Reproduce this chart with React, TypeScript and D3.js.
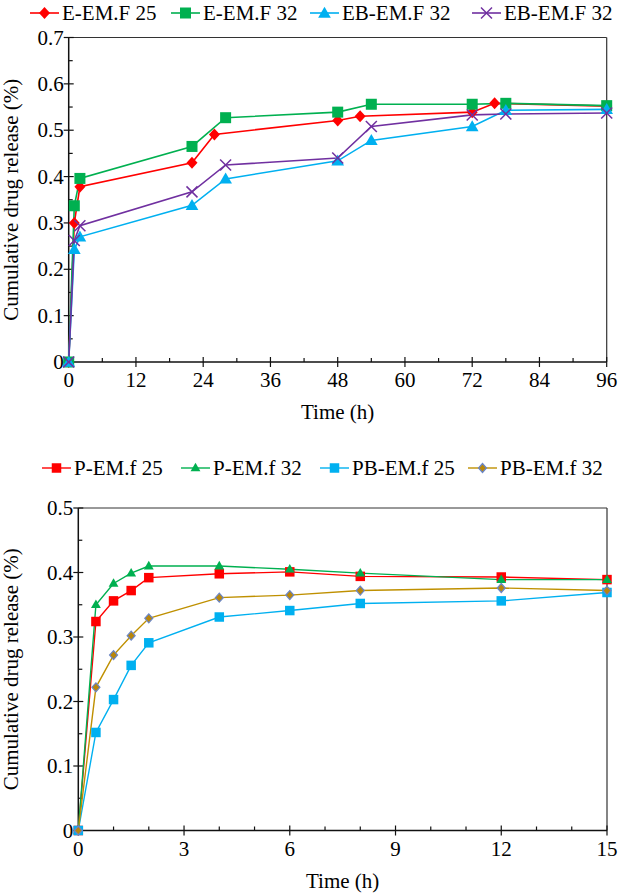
import React from "react";
import * as d3 from "d3";

// ---------- Top chart data ----------
const topNames = ["E-EM.F 25", "E-EM.F 32", "EB-EM.F 32", "EB-EM.F 32"];
const topColors = ["#ff0000", "#00b050", "#00b0f0", "#7030a0"];
const topShapes = ["diamond", "square", "triangle", "cross"];
const topT1 = [0, 1, 2, 22, 26, 48, 52, 72, 76, 96];
const topV1 = [0, 0.3, 0.378, 0.43, 0.491, 0.521, 0.53, 0.539, 0.558, 0.552];
const topT2 = [0, 1, 2, 22, 28, 48, 54, 72, 78, 96];
const topV2 = [0, 0.337, 0.396, 0.465, 0.527, 0.539, 0.556, 0.556, 0.558, 0.553];
const topT3 = [0, 1, 2, 22, 28, 48, 54, 72, 78, 96];
const topV3 = [0, 0.243, 0.27, 0.338, 0.395, 0.434, 0.478, 0.508, 0.543, 0.545];
const topT4 = [0, 1, 2, 22, 28, 48, 54, 72, 78, 96];
const topV4 = [0, 0.262, 0.294, 0.367, 0.425, 0.44, 0.508, 0.533, 0.535, 0.537];
const topXTicks = [0, 12, 24, 36, 48, 60, 72, 84, 96];
const topYTicks = [0, 0.1, 0.2, 0.3, 0.4, 0.5, 0.6, 0.7];

// ---------- Bottom chart data ----------
const botNames = ["P-EM.f 25", "P-EM.f 32", "PB-EM.f 25", "PB-EM.f 32"];
const botColors = ["#ff0000", "#00b050", "#00b0f0", "#bf9000"];
const botShapes = ["square", "triangle", "square", "diamond"];
const botTime = [0, 0.5, 1, 1.5, 2, 4, 6, 8, 12, 15];
const botV1 = [0, 0.324, 0.356, 0.372, 0.392, 0.398, 0.401, 0.394, 0.393, 0.389];
const botV2 = [0, 0.35, 0.383, 0.399, 0.41, 0.41, 0.405, 0.399, 0.389, 0.389];
const botV3 = [0, 0.152, 0.203, 0.256, 0.291, 0.331, 0.341, 0.352, 0.356, 0.369];
const botV4 = [0, 0.222, 0.272, 0.302, 0.329, 0.361, 0.365, 0.372, 0.376, 0.372];
const botXTicks = [0, 3, 6, 9, 12, 15];
const botYTicks = [0, 0.1, 0.2, 0.3, 0.4, 0.5];

const FONT = "Liberation Serif, DejaVu Serif, serif";

type Series = { name: string; color: string; shape: string; t: number[]; v: number[] };

function Marker({ shape, color, x, y, big }: { shape: string; color: string; x: number; y: number; big: boolean }) {
  if (shape === "diamond") {
    if (big) {
      const w = 5.5, h = 6;
      return <path d={`M${x},${y - h}L${x + w},${y}L${x},${y + h}L${x - w},${y}Z`} fill={color} />;
    }
    const w = 4, h = 4.5;
    return <path d={`M${x},${y - h}L${x + w},${y}L${x},${y + h}L${x - w},${y}Z`} fill="#b8860b" stroke="#6a86c8" strokeWidth={1.2} />;
  }
  if (shape === "square") {
    const s = big ? 11 : 9.5;
    return <rect x={x - s / 2} y={y - s / 2} width={s} height={s} fill={color} />;
  }
  if (shape === "triangle") {
    const p = d3.symbol(d3.symbolTriangle, big ? 70 : 42)();
    return <path d={p as string} transform={`translate(${x},${y + (big ? 1 : 0.5)})`} fill={color} />;
  }
  const r = 5.5;
  return (
    <g stroke={color} strokeWidth={1.5}>
      <line x1={x - r} y1={y - r} x2={x + r} y2={y + r} />
      <line x1={x - r} y1={y + r} x2={x + r} y2={y - r} />
    </g>
  );
}

function Chart({
  series, left, right, top, bottom, xMax, yMax, xTicks, yTicks, xMinorStep, yMinorStep, big, legendY, legendXs, lineW,
}: {
  series: Series[]; left: number; right: number; top: number; bottom: number; xMax: number; yMax: number;
  xTicks: number[]; yTicks: number[]; xMinorStep: number; yMinorStep: number; big: boolean;
  legendY: number; legendXs: number[]; lineW: number;
}) {
  const x = d3.scaleLinear().domain([0, xMax]).range([left, right]);
  const y = d3.scaleLinear().domain([0, yMax]).range([bottom, top]);
  const xMinor = d3.range(0, xMax + 1e-9, xMinorStep).filter((v) => !xTicks.some((t) => Math.abs(t - v) < 1e-6));
  const yMinor = d3.range(0, yMax + 1e-9, yMinorStep).filter((v) => !yTicks.some((t) => Math.abs(t - v) < 1e-6));
  const line = d3.line<[number, number]>().x((d) => x(d[0])).y((d) => y(d[1]));
  return (
    <g style={{ fontFamily: FONT }}>
      <line x1={left} x2={right} y1={top} y2={top} stroke="#333" strokeWidth={1} />
      <line x1={right} x2={right} y1={top} y2={bottom} stroke="#333" strokeWidth={1.2} />
      <line x1={left} x2={left} y1={top} y2={bottom} stroke="#111" strokeWidth={1.5} />
      <line x1={left} x2={right} y1={bottom} y2={bottom} stroke="#111" strokeWidth={1.5} />
      {xTicks.map((t) => (
        <g key={"xt" + t}>
          <line x1={x(t)} x2={x(t)} y1={bottom - 5} y2={bottom + 5} stroke="#111" strokeWidth={1.2} />
          <text x={x(t)} y={bottom + 25} fontSize={21} textAnchor="middle">{t}</text>
        </g>
      ))}
      {xMinor.map((t) => (
        <line key={"xm" + t} x1={x(t)} x2={x(t)} y1={bottom - 4} y2={bottom} stroke="#111" strokeWidth={1.2} />
      ))}
      {yTicks.map((t) => (
        <g key={"yt" + t}>
          <line x1={left - 5} x2={left + 5} y1={y(t)} y2={y(t)} stroke="#111" strokeWidth={1.2} />
          <text x={left - 5} y={y(t) + 7} fontSize={21} textAnchor="end">{d3.format("~g")(+t.toFixed(2))}</text>
        </g>
      ))}
      {yMinor.map((t) => (
        <line key={"ym" + t} x1={left} x2={left + 4} y1={y(t)} y2={y(t)} stroke="#111" strokeWidth={1.2} />
      ))}
      {series.map((s) => (
        <path key={"l" + s.name + s.color} d={line(s.t.map((t, i) => [t, s.v[i]]) as [number, number][]) as string}
          fill="none" stroke={s.color} strokeWidth={lineW} />
      ))}
      {series.map((s) =>
        s.t.map((t, i) => (
          <Marker key={"m" + s.color + i} shape={s.shape} color={s.color} x={x(t)} y={y(s.v[i])} big={big} />
        ))
      )}
      {series.map((s, i) => (
        <g key={"lg" + i}>
          <line x1={legendXs[i]} x2={legendXs[i] + 29} y1={legendY} y2={legendY} stroke={s.color} strokeWidth={lineW} />
          <Marker shape={s.shape} color={s.color} x={legendXs[i] + 14.5} y={legendY} big={big} />
          <text x={legendXs[i] + 32} y={legendY + 7} fontSize={21}>{s.name}</text>
        </g>
      ))}
      <text x={(left + right) / 2} y={bottom + 57} fontSize={21} textAnchor="middle">Time (h)</text>
      <text transform={`translate(${18},${(top + bottom) / 2}) rotate(-90)`} fontSize={21} textAnchor="middle">
        Cumulative drug release (%)
      </text>
    </g>
  );
}

export default function App() {
  const topSeries: Series[] = [
    { name: topNames[0], color: topColors[0], shape: topShapes[0], t: topT1, v: topV1 },
    { name: topNames[1], color: topColors[1], shape: topShapes[1], t: topT2, v: topV2 },
    { name: topNames[2], color: topColors[2], shape: topShapes[2], t: topT3, v: topV3 },
    { name: topNames[3], color: topColors[3], shape: topShapes[3], t: topT4, v: topV4 },
  ];
  const botSeries: Series[] = botNames.map((n, i) => ({
    name: n, color: botColors[i], shape: botShapes[i], t: botTime, v: [botV1, botV2, botV3, botV4][i],
  }));
  return (
    <svg width={619} height={894} style={{ position: "absolute", left: 0, top: 0, background: "#fff", fontFamily: FONT }}>
      <rect width={619} height={894} fill="#fff" />
      <Chart series={topSeries} left={68.7} right={606.7} top={37.5} bottom={362} xMax={96} yMax={0.7}
        xTicks={topXTicks} yTicks={topYTicks} xMinorStep={6} yMinorStep={0.05} big={true}
        legendY={13} legendXs={[30, 171, 310, 472]} lineW={1.6} />
      <Chart series={botSeries} left={78.3} right={607} top={508} bottom={830.5} xMax={15} yMax={0.5}
        xTicks={botXTicks} yTicks={botYTicks} xMinorStep={1} yMinorStep={0.05} big={false}
        legendY={468} legendXs={[42, 181, 320, 468]} lineW={1.4} />
    </svg>
  );
}
